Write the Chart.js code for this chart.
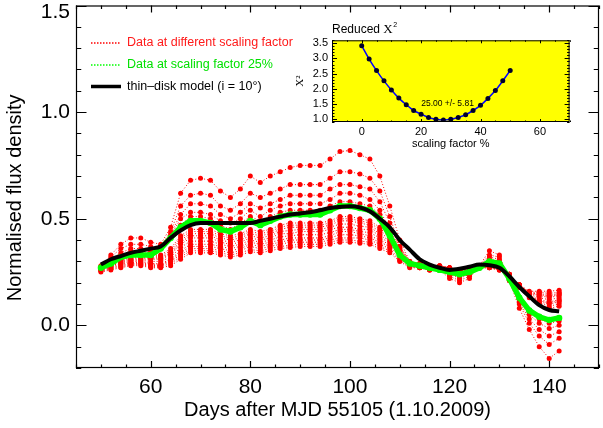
<!DOCTYPE html>
<html>
<head>
<meta charset="utf-8">
<script src="https://cdn.jsdelivr.net/npm/chart.js@4.4.1/dist/chart.umd.min.js"></script>
<style>
  html, body { margin: 0; padding: 0; background: #fff; }
  #wrap { position: relative; width: 603px; height: 428px; }
  #main { position: absolute; left: 0; top: 0; }
  #inset { position: absolute; left: 290px; top: 20px; }
</style>
</head>
<body>
<div id="wrap">
  <canvas id="main" width="603" height="428"></canvas>
  <canvas id="inset" width="300" height="135"></canvas>
</div>
<script>
// Days after MJD 55105
const days = [50, 52, 54, 56, 58, 60, 62, 64, 66, 68, 70, 72, 74, 76, 78, 80, 82, 84, 86, 88, 90, 92, 94, 96,
    98, 100, 102, 104, 106, 108, 110, 112, 114, 116, 118, 120, 122, 124, 126, 128, 130, 132, 134, 136, 138, 140, 142];

// thin-disk model (i = 10 deg)
const modelFlux = [0.285, 0.31, 0.325, 0.34, 0.35, 0.36, 0.37,
    0.41, 0.445, 0.47, 0.48, 0.48, 0.48, 0.48, 0.48, 0.48,
    0.49, 0.50, 0.51, 0.52, 0.525, 0.53, 0.54, 0.55, 0.555,
    0.558, 0.553, 0.535, 0.50, 0.46, 0.40, 0.355, 0.31, 0.285,
    0.27, 0.26, 0.265, 0.275, 0.285, 0.282, 0.27, 0.23, 0.18,
    0.136, 0.095, 0.072, 0.066];

// data at scaling factor 25%
const flux25 = [0.27, 0.29, 0.32, 0.33, 0.33, 0.33, 0.36,
    0.41, 0.46, 0.49, 0.49, 0.48, 0.45, 0.44, 0.46, 0.49,
    0.47, 0.49, 0.51, 0.52, 0.52, 0.52, 0.52, 0.54, 0.56,
    0.56, 0.55, 0.54, 0.50, 0.42, 0.33, 0.29, 0.28, 0.27,
    0.26, 0.25, 0.24, 0.25, 0.27, 0.30, 0.29, 0.22, 0.13,
    0.07, 0.04, 0.025, 0.035];

// data at the other scaling factors: the upper family first, then the dense lower band
const redHi1 = [0.27, 0.33, 0.38, 0.41, 0.41, 0.39, 0.38,
    0.46, 0.62, 0.68, 0.69, 0.68, 0.63, 0.60, 0.64, 0.70,
    0.67, 0.70, 0.72, 0.74, 0.75, 0.75, 0.75, 0.78, 0.815,
    0.82, 0.80, 0.78, 0.70, 0.56, 0.40, 0.30, 0.28, 0.27,
    0.26, 0.22, 0.20, 0.22, 0.28, 0.35, 0.33, 0.21, 0.08,
    -0.02, -0.10, -0.155, -0.12];
const redHi2 = [0.27, 0.32, 0.36, 0.38, 0.38, 0.37, 0.37,
    0.44, 0.56, 0.61, 0.62, 0.61, 0.56, 0.54, 0.57, 0.62,
    0.60, 0.62, 0.64, 0.66, 0.66, 0.66, 0.66, 0.69, 0.72,
    0.72, 0.71, 0.69, 0.63, 0.51, 0.37, 0.30, 0.28, 0.27,
    0.26, 0.23, 0.21, 0.23, 0.28, 0.33, 0.32, 0.21, 0.10,
    0.01, -0.05, -0.09, -0.06];
const redHi3 = [0.27, 0.31, 0.34, 0.36, 0.36, 0.35, 0.37,
    0.43, 0.52, 0.57, 0.57, 0.56, 0.52, 0.50, 0.53, 0.57,
    0.55, 0.57, 0.59, 0.61, 0.61, 0.61, 0.61, 0.64, 0.66,
    0.66, 0.65, 0.64, 0.58, 0.48, 0.36, 0.29, 0.28, 0.27,
    0.26, 0.24, 0.22, 0.24, 0.27, 0.32, 0.31, 0.22, 0.11,
    0.03, -0.02, -0.05, -0.03];
const redHi4 = [0.27, 0.30, 0.33, 0.35, 0.35, 0.34, 0.36,
    0.42, 0.50, 0.53, 0.53, 0.52, 0.49, 0.48, 0.50, 0.54,
    0.51, 0.54, 0.56, 0.57, 0.57, 0.57, 0.57, 0.59, 0.62,
    0.62, 0.61, 0.59, 0.54, 0.45, 0.35, 0.29, 0.28, 0.27,
    0.26, 0.24, 0.23, 0.24, 0.27, 0.31, 0.30, 0.22, 0.12,
    0.05, 0.01, -0.015, 0.0];
const redHi5 = [0.27, 0.29, 0.33, 0.34, 0.34, 0.34, 0.36,
    0.41, 0.47, 0.51, 0.51, 0.50, 0.47, 0.45, 0.48, 0.51,
    0.49, 0.51, 0.53, 0.54, 0.54, 0.54, 0.54, 0.56, 0.58,
    0.58, 0.57, 0.56, 0.52, 0.43, 0.34, 0.29, 0.28, 0.27,
    0.26, 0.25, 0.24, 0.25, 0.27, 0.30, 0.29, 0.22, 0.13,
    0.06, 0.03, 0.01, 0.02];
const redLo1 = [0.28, 0.30, 0.32, 0.33, 0.33, 0.33, 0.33,
    0.36, 0.42, 0.45, 0.45, 0.45, 0.43, 0.42, 0.43, 0.45,
    0.44, 0.45, 0.47, 0.48, 0.48, 0.48, 0.48, 0.49, 0.51,
    0.51, 0.50, 0.49, 0.46, 0.44, 0.37, 0.30, 0.29, 0.28,
    0.28, 0.27, 0.26, 0.27, 0.28, 0.29, 0.28, 0.24, 0.18,
    0.13, 0.10, 0.08, 0.09];
const redLo2 = [0.275, 0.295, 0.315, 0.325, 0.325, 0.325, 0.325,
    0.35, 0.41, 0.44, 0.44, 0.44, 0.42, 0.41, 0.42, 0.44,
    0.43, 0.44, 0.46, 0.47, 0.47, 0.47, 0.47, 0.48, 0.50,
    0.50, 0.49, 0.48, 0.45, 0.43, 0.36, 0.295, 0.29, 0.28,
    0.28, 0.27, 0.26, 0.27, 0.28, 0.29, 0.28, 0.24, 0.18,
    0.135, 0.105, 0.09, 0.10];
const redLo3 = [0.27, 0.29, 0.31, 0.32, 0.32, 0.32, 0.32,
    0.34, 0.40, 0.43, 0.43, 0.43, 0.41, 0.40, 0.41, 0.43,
    0.42, 0.43, 0.45, 0.46, 0.46, 0.46, 0.46, 0.47, 0.49,
    0.49, 0.48, 0.47, 0.44, 0.42, 0.35, 0.29, 0.29, 0.28,
    0.28, 0.27, 0.26, 0.27, 0.28, 0.29, 0.28, 0.24, 0.18,
    0.14, 0.11, 0.10, 0.11];
const redLo4 = [0.27, 0.285, 0.305, 0.315, 0.315, 0.315, 0.315,
    0.335, 0.39, 0.42, 0.42, 0.42, 0.40, 0.39, 0.40, 0.42,
    0.41, 0.42, 0.44, 0.445, 0.45, 0.45, 0.45, 0.46, 0.475,
    0.475, 0.465, 0.46, 0.43, 0.41, 0.345, 0.29, 0.285, 0.275,
    0.275, 0.27, 0.26, 0.27, 0.28, 0.285, 0.275, 0.24, 0.18,
    0.14, 0.115, 0.105, 0.115];
const redLo5 = [0.27, 0.28, 0.30, 0.31, 0.31, 0.31, 0.31,
    0.33, 0.38, 0.41, 0.41, 0.41, 0.39, 0.38, 0.39, 0.41,
    0.40, 0.41, 0.43, 0.43, 0.44, 0.44, 0.44, 0.45, 0.46,
    0.46, 0.45, 0.45, 0.42, 0.40, 0.34, 0.29, 0.28, 0.27,
    0.27, 0.27, 0.26, 0.27, 0.28, 0.28, 0.27, 0.24, 0.18,
    0.14, 0.12, 0.11, 0.12];
const redLo6 = [0.265, 0.28, 0.295, 0.305, 0.305, 0.30, 0.30,
    0.32, 0.365, 0.395, 0.395, 0.395, 0.38, 0.37, 0.38, 0.40,
    0.39, 0.40, 0.415, 0.42, 0.425, 0.425, 0.425, 0.435, 0.45,
    0.45, 0.44, 0.435, 0.41, 0.39, 0.335, 0.285, 0.28, 0.27,
    0.27, 0.265, 0.26, 0.265, 0.275, 0.28, 0.27, 0.235, 0.185,
    0.145, 0.13, 0.12, 0.13];
const redLo7 = [0.26, 0.28, 0.29, 0.30, 0.30, 0.29, 0.29,
    0.31, 0.35, 0.38, 0.38, 0.38, 0.37, 0.36, 0.37, 0.39,
    0.38, 0.39, 0.40, 0.41, 0.41, 0.41, 0.41, 0.42, 0.44,
    0.44, 0.43, 0.42, 0.40, 0.38, 0.33, 0.28, 0.28, 0.27,
    0.27, 0.26, 0.26, 0.26, 0.27, 0.28, 0.27, 0.23, 0.19,
    0.15, 0.14, 0.13, 0.14];
const redLo8 = [0.26, 0.275, 0.285, 0.295, 0.295, 0.285, 0.285,
    0.305, 0.34, 0.37, 0.37, 0.37, 0.36, 0.35, 0.36, 0.38,
    0.37, 0.38, 0.39, 0.40, 0.40, 0.40, 0.40, 0.41, 0.425,
    0.425, 0.42, 0.41, 0.39, 0.37, 0.32, 0.28, 0.275, 0.265,
    0.265, 0.26, 0.255, 0.26, 0.27, 0.275, 0.265, 0.23, 0.19,
    0.15, 0.145, 0.135, 0.145];
const redLo9 = [0.26, 0.27, 0.28, 0.29, 0.29, 0.28, 0.28,
    0.30, 0.33, 0.36, 0.36, 0.36, 0.35, 0.34, 0.35, 0.37,
    0.36, 0.37, 0.38, 0.39, 0.39, 0.39, 0.39, 0.40, 0.41,
    0.41, 0.41, 0.40, 0.38, 0.36, 0.31, 0.28, 0.27, 0.26,
    0.26, 0.26, 0.255, 0.26, 0.27, 0.27, 0.26, 0.23, 0.19,
    0.15, 0.15, 0.14, 0.15];
const redLo10 = [0.255, 0.265, 0.275, 0.285, 0.285, 0.275, 0.275,
    0.29, 0.32, 0.35, 0.35, 0.35, 0.34, 0.33, 0.34, 0.355,
    0.35, 0.36, 0.37, 0.375, 0.38, 0.38, 0.38, 0.39, 0.40,
    0.40, 0.395, 0.39, 0.37, 0.35, 0.305, 0.275, 0.27, 0.26,
    0.26, 0.26, 0.255, 0.26, 0.27, 0.27, 0.26, 0.23, 0.19,
    0.155, 0.155, 0.15, 0.155];
const redLo11 = [0.25, 0.26, 0.27, 0.28, 0.28, 0.27, 0.27,
    0.28, 0.31, 0.34, 0.34, 0.34, 0.33, 0.32, 0.33, 0.345,
    0.34, 0.35, 0.36, 0.365, 0.37, 0.37, 0.37, 0.38, 0.39,
    0.39, 0.385, 0.38, 0.36, 0.34, 0.30, 0.27, 0.27, 0.26,
    0.26, 0.26, 0.255, 0.26, 0.27, 0.27, 0.26, 0.23, 0.19,
    0.16, 0.16, 0.16, 0.165];
const redSeries = [redHi1, redHi2, redHi3, redHi4, redHi5,
    redLo1, redLo2, redLo3, redLo4, redLo5, redLo6, redLo7, redLo8, redLo9, redLo10, redLo11];

const xTicks = [60, 80, 100, 120, 140];
const yTicks = [0, 0.5, 1.0, 1.5];
const legendLabels = ['Data at different scaling factor', 'Data at scaling factor 25%', 'thin\u2013disk model (i = 10\u00b0)'];

// inset: reduced chi^2 against scaling factor
const insetScaling = [0, 2.5, 5, 7.5, 10, 12.5, 15, 17.5, 20, 22.5, 25, 27.5, 30, 32.5, 35, 37.5, 40, 42.5, 45, 47.5, 50];
const insetChi2 = [3.42, 2.98, 2.60, 2.26, 1.96, 1.69, 1.47, 1.28, 1.16, 1.05, 0.99, 0.97, 0.99, 1.05, 1.14, 1.28, 1.45, 1.68, 1.94, 2.26, 2.60];
const insetXTicks = [0, 20, 40, 60];
const insetYTicks = [1.0, 1.5, 2.0, 2.5, 3.0, 3.5];
const insetFit = { x: 28.9, y: 1.51, text: '25.00 +/- 5.81' };

const FONT = "'Liberation Sans', Arial, Helvetica, sans-serif";
const SERIF = "'Liberation Serif', 'Times New Roman', serif";

const toPoints = (xs, ys) => xs.map((x, i) => ({ x, y: ys[i] }));

// box round the plot area with IDL-style inward ticks on all four sides
function frameTicks(cfg) {
    return {
        id: 'frameTicks',
        afterDraw(chart) {
            const { ctx, chartArea: a, scales: { x, y } } = chart;
            const isMajor = (v, list) => list.some((m) => Math.abs(m - v) < 1e-9);
            ctx.save();
            ctx.strokeStyle = '#000';
            ctx.lineWidth = cfg.lineWidth;
            ctx.strokeRect(a.left + 0.5, a.top + 0.5, a.right - a.left - 1, a.bottom - a.top - 1);
            ctx.beginPath();
            for (let k = Math.ceil(x.min / cfg.xStep); k * cfg.xStep <= x.max; k++) {
                const v = k * cfg.xStep;
                const len = isMajor(v, cfg.xMajor) ? cfg.xLen : cfg.xLen / 2;
                const px = Math.round(x.getPixelForValue(v)) + 0.5;
                ctx.moveTo(px, a.bottom);
                ctx.lineTo(px, a.bottom - len);
                ctx.moveTo(px, a.top);
                ctx.lineTo(px, a.top + len);
            }
            for (let k = Math.ceil(y.min / cfg.yStep - 1e-9); k * cfg.yStep <= y.max + 1e-9; k++) {
                const v = k * cfg.yStep;
                const len = isMajor(v, cfg.yMajor) ? cfg.yLen : cfg.yLen / 2;
                const py = Math.round(y.getPixelForValue(v)) + 0.5;
                ctx.moveTo(a.left, py);
                ctx.lineTo(a.left + len, py);
                ctx.moveTo(a.right, py);
                ctx.lineTo(a.right - len, py);
            }
            ctx.stroke();
            ctx.restore();
        }
    };
}

const mainLegend = {
    id: 'mainLegend',
    afterDraw(chart) {
        const ctx = chart.ctx;
        const rows = [
            { text: legendLabels[0], line: '#ff0000', color: '#ff1a1a', dash: [1.5, 1.5], width: 1.6, y: 43 },
            { text: legendLabels[1], line: '#00ff00', color: '#00e000', dash: [1.5, 1.5], width: 1.6, y: 65 },
            { text: legendLabels[2], line: '#000000', color: '#000000', dash: [], width: 3.5, y: 86.5 },
        ];
        ctx.save();
        ctx.font = '12.5px ' + FONT;
        ctx.textBaseline = 'middle';
        rows.forEach((r) => {
            ctx.strokeStyle = r.line;
            ctx.lineWidth = r.width;
            ctx.setLineDash(r.dash);
            ctx.beginPath();
            ctx.moveTo(91, r.y);
            ctx.lineTo(121, r.y);
            ctx.stroke();
            ctx.fillStyle = r.color;
            ctx.fillText(r.text, 127, r.y);
        });
        ctx.restore();
    }
};

const datasets = [
    {
        data: toPoints(days, modelFlux),
        borderColor: '#000000',
        borderWidth: 4,
        pointRadius: 0,
        cubicInterpolationMode: 'monotone',
    },
    {
        data: toPoints(days, flux25),
        borderColor: '#00ff00',
        backgroundColor: '#00ff00',
        borderWidth: 5.5,
        pointRadius: 3.2,
        pointBorderWidth: 0,
    },
    ...redSeries.map((vals) => ({
        data: toPoints(days, vals),
        borderColor: '#ff0000',
        backgroundColor: '#ff0000',
        borderWidth: 1,
        borderDash: [1, 2],
        pointRadius: 2.5,
        pointBorderWidth: 0,
    })),
];

new Chart(document.getElementById('main'), {
    type: 'line',
    data: { datasets },
    options: {
        responsive: false,
        animation: false,
        events: [],
        layout: { padding: { left: 0, right: 0, top: 5.5, bottom: 0 } },
        plugins: { legend: { display: false }, tooltip: { enabled: false } },
        scales: {
            x: {
                type: 'linear',
                min: 45,
                max: 150,
                afterBuildTicks: (s) => { s.ticks = xTicks.map((v) => ({ value: v })); },
                afterFit: (s) => { s.height = 60; s.paddingLeft = 0; s.paddingRight = 0; },
                grid: { display: false, drawTicks: false },
                border: { display: false },
                ticks: { color: '#000', font: { family: FONT, size: 21 }, padding: 7, maxRotation: 0, autoSkip: false },
                title: {
                    display: true,
                    text: 'Days after MJD 55105 (1.10.2009)',
                    color: '#000',
                    font: { family: FONT, size: 20 },
                    padding: { top: 0, bottom: 6 },
                },
            },
            y: {
                min: -0.2,
                max: 1.5,
                afterBuildTicks: (s) => { s.ticks = yTicks.map((v) => ({ value: v })); },
                afterFit: (s) => { s.width = 76; s.paddingTop = 0; s.paddingBottom = 0; },
                grid: { display: false, drawTicks: false },
                border: { display: false },
                ticks: {
                    color: '#000',
                    font: { family: FONT, size: 21, lineHeight: 0.6 },
                    padding: 6,
                    // top label sits below its tick so it stays inside the picture
                    callback: (v) => (v === 1.5 ? ['', v.toFixed(1)] : v.toFixed(1)),
                },
                title: {
                    display: true,
                    // trailing spaces nudge the centred title down to where it sits in the original
                    text: 'Normalised flux density\u00a0\u00a0\u00a0\u00a0',
                    color: '#000',
                    font: { family: FONT, size: 20 },
                    padding: { top: 3.5, bottom: 0 },
                },
            },
        },
    },
    plugins: [
        frameTicks({ lineWidth: 1.2, xStep: 5, xMajor: xTicks, xLen: 7, yStep: 0.1, yMajor: yTicks, yLen: 10.5 }),
        mainLegend,
    ],
});

const insetDecor = {
    id: 'insetDecor',
    beforeDraw(chart) {
        const { ctx, chartArea: a } = chart;
        ctx.save();
        ctx.fillStyle = '#ffff00';
        ctx.fillRect(a.left, a.top, a.right - a.left, a.bottom - a.top);
        ctx.restore();
    },
    afterDraw(chart) {
        const { ctx, chartArea: a, scales: { x, y } } = chart;
        ctx.save();
        ctx.fillStyle = '#000';
        ctx.textBaseline = 'alphabetic';
        ctx.font = '12px ' + FONT;
        const ty = a.top - 7;
        ctx.fillText('Reduced ', a.left, ty);
        let tx = a.left + ctx.measureText('Reduced ').width;
        ctx.font = '13px ' + SERIF;
        ctx.fillText('\u03a7', tx, ty);
        tx += ctx.measureText('\u03a7').width;
        ctx.font = '7px ' + FONT;
        ctx.fillText('2', tx + 0.5, ty - 6);
        ctx.font = '8.5px ' + FONT;
        ctx.textAlign = 'center';
        ctx.textBaseline = 'middle';
        ctx.fillText(insetFit.text, x.getPixelForValue(insetFit.x), y.getPixelForValue(insetFit.y));
        ctx.restore();
    }
};

new Chart(document.getElementById('inset'), {
    type: 'line',
    data: {
        datasets: [{
            data: toPoints(insetScaling, insetChi2),
            borderColor: '#0000ff',
            borderWidth: 1.5,
            tension: 0.3,
            pointRadius: 2.5,
            pointBackgroundColor: '#00002a',
            pointBorderWidth: 0,
        }],
    },
    options: {
        responsive: false,
        animation: false,
        events: [],
        layout: { padding: { left: 0, right: 20.4, top: 20.3, bottom: 0 } },
        plugins: { legend: { display: false }, tooltip: { enabled: false } },
        scales: {
            x: {
                type: 'linear',
                min: -10,
                max: 70,
                afterBuildTicks: (s) => { s.ticks = insetXTicks.map((v) => ({ value: v })); },
                afterFit: (s) => { s.height = 33; s.paddingLeft = 0; s.paddingRight = 0; },
                grid: { display: false, drawTicks: false },
                border: { display: false },
                ticks: { color: '#000', font: { family: FONT, size: 11 }, padding: 3.4, maxRotation: 0, autoSkip: false },
                title: {
                    display: true,
                    text: 'scaling factor %',
                    color: '#000',
                    font: { family: FONT, size: 11 },
                    padding: { top: 0, bottom: 4.4 },
                },
            },
            y: {
                min: 0.9,
                max: 3.6,
                afterBuildTicks: (s) => { s.ticks = insetYTicks.map((v) => ({ value: v })); },
                afterFit: (s) => { s.width = 42; s.paddingTop = 0; s.paddingBottom = 0; },
                grid: { display: false, drawTicks: false },
                border: { display: false },
                ticks: { color: '#000', font: { family: FONT, size: 11 }, padding: 4, callback: (v) => v.toFixed(1) },
                title: {
                    display: true,
                    text: '\u03a7\u00b2',
                    color: '#000',
                    font: { family: SERIF, size: 11 },
                    padding: { top: 3.4, bottom: 0 },
                },
            },
        },
    },
    plugins: [
        insetDecor,
        frameTicks({ lineWidth: 1, xStep: 5, xMajor: insetXTicks, xLen: 3, yStep: 0.1, yMajor: insetYTicks, yLen: 5 }),
    ],
});
</script>
</body>
</html>
